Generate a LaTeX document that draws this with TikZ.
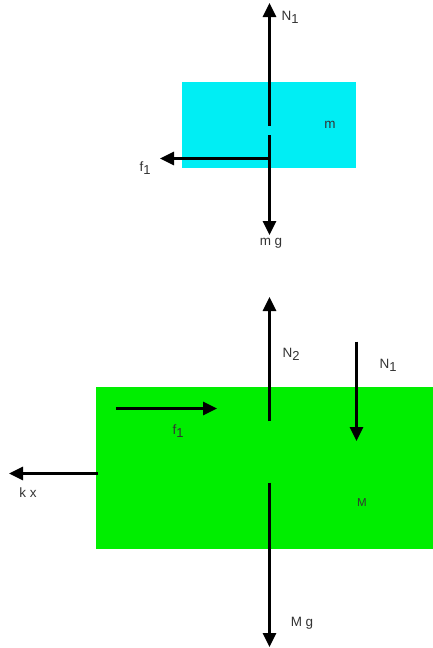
\documentclass[tikz,border=0pt]{standalone}
\usepackage{fontspec}
\setmainfont{Liberation Sans}
\usetikzlibrary{arrows.meta}
\newcommand{\lowsub}[1]{\raisebox{-0.45ex}{\fontsize{13}{13}\selectfont #1}}
\tikzset{
  force/.style={line width=3pt,-{Triangle[length=14pt,width=13pt]}},
  lbl/.style={inner sep=0pt,font=\fontsize{13.5}{15}\selectfont,text=black!80},
  blockbox/.style={draw=none,minimum width=#1,inner sep=0pt,outer sep=0pt}
}
\begin{document}
\begin{tikzpicture}[x=1pt,y=-1pt]
        \useasboundingbox (0,0) rectangle (433,648);
        % upper body m
        \node[blockbox=174pt,minimum height=86pt,fill={rgb,255:red,0;green,238;blue,244}] (blkm) at (269,125) {};
        \coordinate (cm1) at (269.5,126);
        \coordinate (cm2) at (269.5,135);
        \coordinate (n1top) at (269.5,3);
        \coordinate (mgtip) at (269.5,235);
        \coordinate (fcorner) at (269.5,158.5);
        \coordinate (f1tip) at (160,158.5);
        \draw[force] (cm1) -- (n1top);
        \draw[force] (cm2) -- (mgtip);
        \draw[force] (fcorner) -- (f1tip);
        \node[lbl] (lN1a) at (290,17) {N\lowsub{1}};
        \node[lbl] (lm) at (330,125) {m};
        \node[lbl] (lf1a) at (145,168) {f\lowsub{1}};
        \node[lbl] (lmg) at (271,243) {m g};
        % lower body M
        \node[blockbox=338pt,minimum height=162pt,fill={rgb,255:red,0;green,238;blue,0}] (blkM) at (264.5,467.5) {};
        \coordinate (cM1) at (269.5,421);
        \coordinate (cM2) at (269.5,482.5);
        \coordinate (n2tip) at (269.5,297);
        \coordinate (Mgtip) at (269.5,647);
        \coordinate (n1start) at (356.5,341.5);
        \coordinate (n1tip) at (356.5,441);
        \coordinate (f1start) at (116,408.5);
        \coordinate (f1end) at (217,408.5);
        \coordinate (kxstart) at (98,473.5);
        \coordinate (kxtip) at (9,473.5);
        \draw[force] (cM1) -- (n2tip);
        \draw[force] (cM2) -- (Mgtip);
        \draw[force] (n1start) -- (n1tip);
        \draw[force] (f1start) -- (f1end);
        \draw[force] (kxstart) -- (kxtip);
        \node[lbl] (lN2) at (291,354) {N\lowsub{2}};
        \node[lbl] (lN1b) at (388,365) {N\lowsub{1}};
        \node[lbl] (lf1b) at (178,431) {f\lowsub{1}};
        \node[lbl] (lkx) at (28,493) {k x};
        \node[lbl,font=\fontsize{11.5}{13}\selectfont] (lM) at (362,503) {M};
        \node[lbl] (lMg) at (302,623) {M g};
      \end{tikzpicture}
\end{document}
